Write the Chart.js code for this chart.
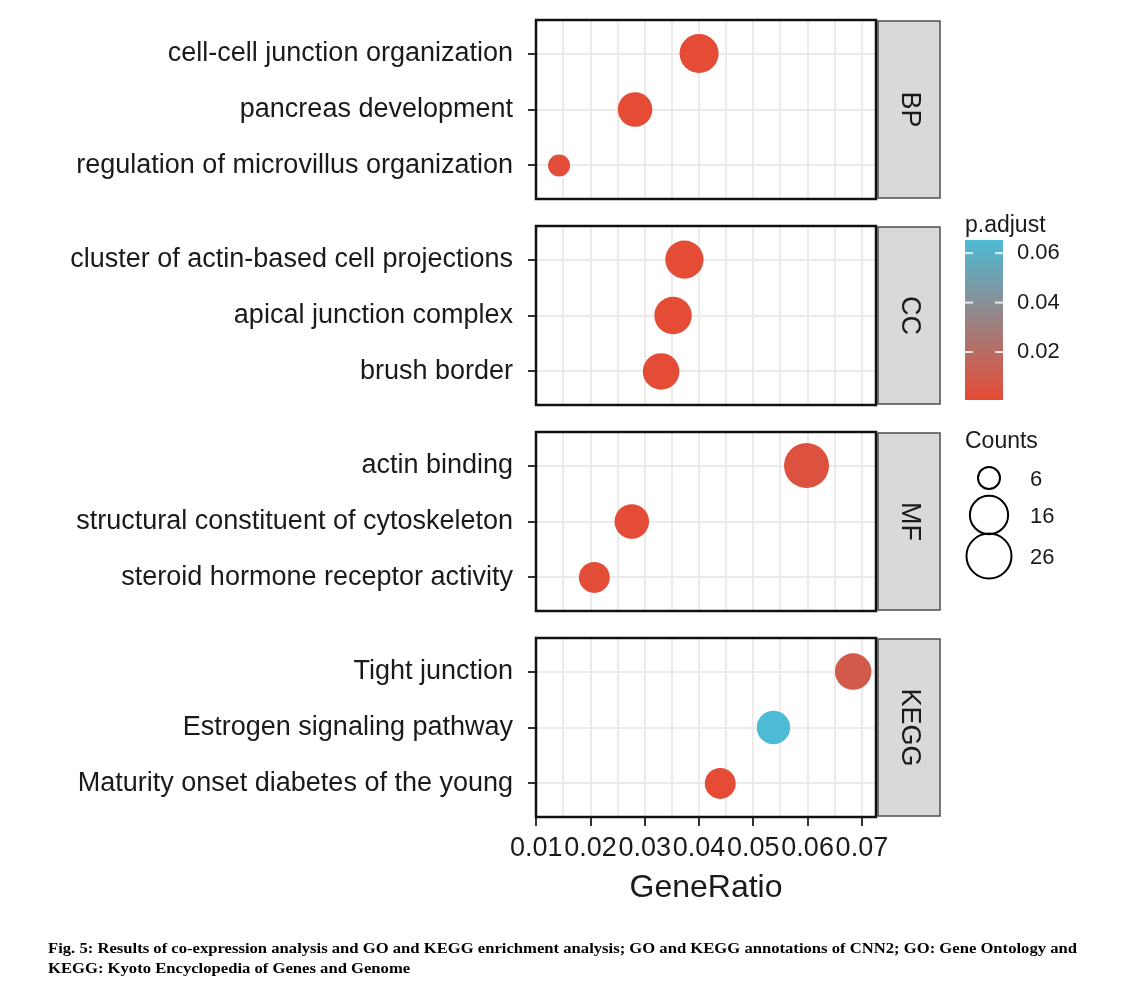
<!DOCTYPE html>
<html>
<head>
<meta charset="utf-8">
<script src="https://cdn.jsdelivr.net/npm/chart.js@4.4.1/dist/chart.umd.min.js"></script>
<style>
  body { margin: 0; background: #fff; }
  #page { position: relative; width: 1137px; height: 990px; background: #fff; }
  #page canvas { position: absolute; left: 0; display: block; }
  #overlay { top: 0; pointer-events: none; }
</style>
</head>
<body>
<div id="page">
  <canvas id="c0"></canvas>
  <canvas id="c1"></canvas>
  <canvas id="c2"></canvas>
  <canvas id="c3"></canvas>
  <canvas id="overlay" width="1137" height="990"></canvas>
</div>
<script>
// ---- data ----
const facets = ['BP', 'CC', 'MF', 'KEGG'];

const bpTerms = ['cell-cell junction organization', 'pancreas development', 'regulation of microvillus organization'];
const bpRatio = [0.0400, 0.0282, 0.0142];
const bpCount = [17, 12, 6];
const bpPadj = [0.0012, 0.0006, 0.0021];

const ccTerms = ['cluster of actin-based cell projections', 'apical junction complex', 'brush border'];
const ccRatio = [0.0373, 0.0352, 0.0330];
const ccCount = [16, 15, 14];
const ccPadj = [0.0009, 0.0009, 0.0010];

const mfTerms = ['actin binding', 'structural constituent of cytoskeleton', 'steroid hormone receptor activity'];
const mfRatio = [0.0598, 0.0276, 0.0207];
const mfCount = [26, 12, 9];
const mfPadj = [0.0048, 0.0013, 0.0018];

const keggTerms = ['Tight junction', 'Estrogen signaling pathway', 'Maturity onset diabetes of the young'];
const keggRatio = [0.0684, 0.0537, 0.0439];
const keggCount = [14, 11, 9];
const keggPadj = [0.0095, 0.0653, 0.0007];

const xTicks = [0.01, 0.02, 0.03, 0.04, 0.05, 0.06, 0.07];
const padjTicks = [0.02, 0.04, 0.06];
const countBreaks = [6, 16, 26];

const caption = [
  'Fig. 5: Results of co-expression analysis and GO and KEGG enrichment analysis; GO and KEGG annotations of CNN2; GO: Gene Ontology and',
  'KEGG: Kyoto Encyclopedia of Genes and Genome'
];

// ---- scales for size and colour (ggplot-like) ----
const allCounts = [...bpCount, ...ccCount, ...mfCount, ...keggCount];
const allPadj = [...bpPadj, ...ccPadj, ...mfPadj, ...keggPadj];
const cMin = Math.min(...allCounts), cMax = Math.max(...allCounts);
const pMin = Math.min(...allPadj), pMax = Math.max(...allPadj);
const LOW = [230, 75, 53], HIGH = [77, 187, 213];

const sizeOf = c => 11 + 11.5 * Math.sqrt((c - cMin) / (cMax - cMin));
const colorOf = p => {
  const t = (p - pMin) / (pMax - pMin);
  const rgb = LOW.map((v, i) => Math.round(v + (HIGH[i] - v) * t));
  return `rgb(${rgb.join(',')})`;
};

Chart.defaults.font.family = '"Liberation Sans", Arial, sans-serif';
Chart.defaults.color = '#1a1a1a';

const PANEL_TOPS = [20, 226, 432, 638];
const PANEL_H = 179;
const PANEL_LEFT = 536, PANEL_RIGHT = 876, CANVAS_W = 945;
const PAD = 6, X_AXIS_H = 95;

// strip on the right + black panel border
const facetPlugin = {
  id: 'facet',
  afterDraw(chart, args, opts) {
    const { ctx, chartArea: a } = chart;
    ctx.save();
    ctx.fillStyle = '#D9D9D9';
    ctx.fillRect(a.right + 2, a.top + 1, 62, a.bottom - a.top - 2);
    ctx.strokeStyle = '#4d4d4d';
    ctx.lineWidth = 1.5;
    ctx.strokeRect(a.right + 2, a.top + 1, 62, a.bottom - a.top - 2);
    ctx.translate(a.right + 33, (a.top + a.bottom) / 2);
    ctx.rotate(Math.PI / 2);
    ctx.font = '27px "Liberation Sans"';
    ctx.fillStyle = '#1a1a1a';
    ctx.textAlign = 'center';
    ctx.textBaseline = 'middle';
    ctx.fillText(opts.label, 0, 0);
    ctx.restore();

    ctx.save();
    ctx.strokeStyle = '#111';
    ctx.lineWidth = 2.5;
    ctx.strokeRect(a.left, a.top, a.right - a.left, a.bottom - a.top);
    ctx.restore();
  }
};

function makePanel(i, terms, ratio, count, padj) {
  const bottom = i === facets.length - 1;
  const h = PANEL_H + PAD + (bottom ? X_AXIS_H : PAD);
  const cv = document.getElementById('c' + i);
  cv.width = CANVAS_W;
  cv.height = h;
  cv.style.top = (PANEL_TOPS[i] - PAD) + 'px';

  new Chart(cv, {
    type: 'scatter',
    data: {
      datasets: [{
        data: ratio.map((r, k) => ({ x: r, y: k + 1 })),
        pointRadius: count.map(sizeOf),
        pointHoverRadius: count.map(sizeOf),
        pointBackgroundColor: padj.map(colorOf),
        pointBorderWidth: 0
      }]
    },
    options: {
      responsive: false,
      animation: false,
      events: [],
      layout: {
        autoPadding: false,
        padding: { top: PAD, bottom: bottom ? 0 : PAD, left: 0, right: CANVAS_W - PANEL_RIGHT }
      },
      plugins: { legend: { display: false }, tooltip: { enabled: false }, facet: { label: facets[i] } },
      scales: {
        x: {
          type: 'linear',
          min: 0.00995,
          max: 0.0726,
          afterBuildTicks: s => {
            const v = [];
            xTicks.forEach((t, k) => {
              v.push({ value: t });
              if (k < xTicks.length - 1) v.push({ value: (t + xTicks[k + 1]) / 2, minor: true });
            });
            s.ticks = v;
          },
          afterFit: s => {
            s.height = bottom ? X_AXIS_H : 0;
            s.paddingLeft = 0;
            s.paddingRight = 0;
          },
          ticks: {
            display: bottom,
            autoSkip: false,
            maxRotation: 0,
            minRotation: 0,
            padding: 6,
            font: { size: 27 },
            color: '#1a1a1a',
            callback: (v, idx, ticks) => ticks[idx].minor ? '' : v.toFixed(2)
          },
          grid: {
            color: '#EBEBEB',
            lineWidth: 2,
            drawTicks: bottom,
            tickLength: 9,
            tickWidth: 2,
            tickColor: c => (c.tick && c.tick.minor) ? 'rgba(0,0,0,0)' : '#333'
          },
          border: { display: false },
          title: {
            display: bottom,
            text: 'GeneRatio',
            font: { size: 32 },
            color: '#1a1a1a',
            padding: { top: 0, bottom: 5 }
          }
        },
        y: {
          type: 'linear',
          min: 0.4,
          max: 3.6,
          reverse: true,
          afterBuildTicks: s => { s.ticks = terms.map((_, k) => ({ value: k + 1 })); },
          afterFit: s => {
            s.width = PANEL_LEFT;
            s.paddingTop = 0;
            s.paddingBottom = 0;
          },
          ticks: {
            autoSkip: false,
            padding: 15,
            font: { size: 27 },
            color: '#1a1a1a',
            callback: (v, idx) => terms[idx]
          },
          grid: { color: '#EBEBEB', lineWidth: 2, tickLength: 8, tickWidth: 2, tickColor: '#333' },
          border: { display: false }
        }
      }
    },
    plugins: [facetPlugin]
  });
}

makePanel(0, bpTerms, bpRatio, bpCount, bpPadj);
makePanel(1, ccTerms, ccRatio, ccCount, ccPadj);
makePanel(2, mfTerms, mfRatio, mfCount, mfPadj);
makePanel(3, keggTerms, keggRatio, keggCount, keggPadj);

// ---- legends and caption ----
const ctx = document.getElementById('overlay').getContext('2d');
ctx.fillStyle = '#1a1a1a';
ctx.textBaseline = 'middle';
ctx.font = '23px "Liberation Sans"';
ctx.fillText('p.adjust', 965, 226);

const barX = 965, barW = 38, barTop = 240, barBot = 400;
const g = ctx.createLinearGradient(0, barBot, 0, barTop);
g.addColorStop(0, colorOf(pMin));
g.addColorStop(1, colorOf(pMax));
ctx.fillStyle = g;
ctx.fillRect(barX, barTop, barW, barBot - barTop);
ctx.font = '22px "Liberation Sans"';
padjTicks.forEach(p => {
  const y = barBot - (p - pMin) / (pMax - pMin) * (barBot - barTop);
  ctx.fillStyle = 'rgba(255,255,255,0.8)';
  ctx.fillRect(barX, y - 1, 8, 2);
  ctx.fillRect(barX + barW - 8, y - 1, 8, 2);
  ctx.fillStyle = '#1a1a1a';
  ctx.fillText(p.toFixed(2), 1017, y);
});

ctx.font = '23px "Liberation Sans"';
ctx.fillText('Counts', 965, 442);
const keyY = [478, 515, 556];
ctx.font = '22px "Liberation Sans"';
countBreaks.forEach((c, k) => {
  ctx.beginPath();
  ctx.arc(989, keyY[k], sizeOf(c), 0, Math.PI * 2);
  ctx.lineWidth = 2;
  ctx.strokeStyle = '#000';
  ctx.stroke();
  ctx.fillStyle = '#1a1a1a';
  ctx.fillText(String(c), 1030, keyY[k] + 2);
});

ctx.font = 'bold 15px "Liberation Serif"';
ctx.fillStyle = '#000';
ctx.textBaseline = 'alphabetic';
const sx = 1029 / ctx.measureText(caption[0]).width;
ctx.save();
ctx.scale(sx, 1);
ctx.fillText(caption[0], 48 / sx, 953);
ctx.fillText(caption[1], 48 / sx, 973);
ctx.restore();
</script>
</body>
</html>
